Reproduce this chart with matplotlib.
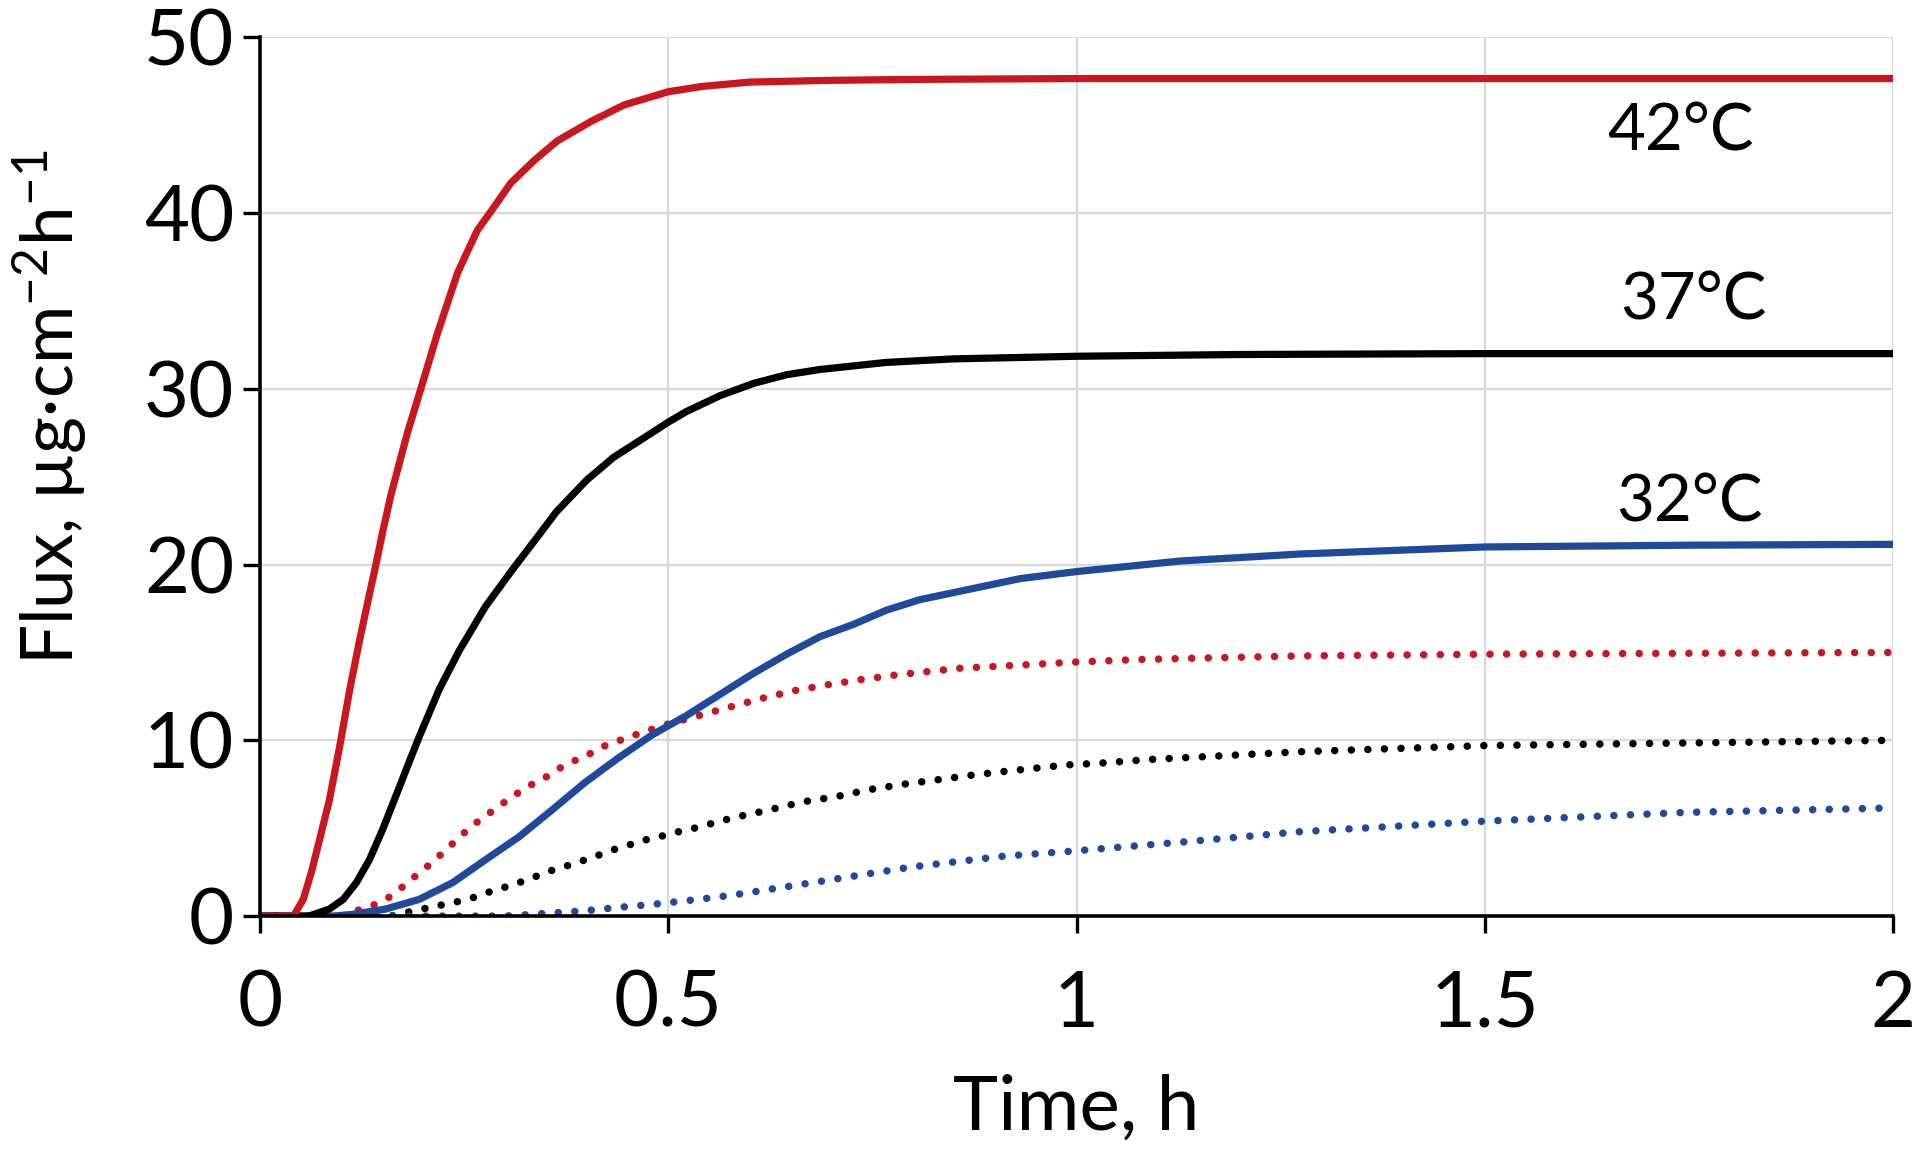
import numpy as np
import matplotlib.pyplot as plt

plt.rcParams['font.family'] = ['Lato', 'DejaVu Sans']
plt.rcParams['mathtext.default'] = 'regular'

# curves (time in h, flux in ug/cm2/h)
t_red = [0, 0.041, 0.053, 0.063, 0.073, 0.085, 0.0976, 0.110, 0.122, 0.134, 0.142, 0.150,
         0.1606, 0.1806, 0.197, 0.217, 0.242, 0.266, 0.283, 0.307, 0.336, 0.364,
         0.405, 0.446, 0.5, 0.541, 0.6, 0.7, 0.8, 1.0, 1.5, 2.0]
f_red = [0, 0, 0.95, 2.5, 4.35, 6.6, 9.65, 12.9, 15.7, 18.3, 20.0, 21.8,
         24.0, 27.5, 30.0, 33.1, 36.6, 39.0, 40.1, 41.7, 43.0, 44.1,
         45.2, 46.15, 46.9, 47.2, 47.45, 47.55, 47.6, 47.65, 47.65, 47.65]

t_black = [0, 0.06, 0.085, 0.102, 0.118, 0.134, 0.150, 0.167, 0.183, 0.195, 0.2195, 0.244,
           0.276, 0.309, 0.337, 0.363, 0.40, 0.433, 0.47, 0.5, 0.522, 0.563, 0.604, 0.645,
           0.686, 0.767, 0.849, 1.0, 1.2, 1.5, 2.0]
f_black = [0, 0, 0.4, 0.95, 1.9, 3.2, 4.9, 6.9, 8.8, 10.2, 12.9, 15.1,
           17.6, 19.7, 21.4, 23.0, 24.8, 26.1, 27.2, 28.1, 28.7, 29.6, 30.3, 30.8,
           31.1, 31.5, 31.7, 31.85, 31.95, 32.0, 32.0]

t_blue = [0, 0.09, 0.114, 0.154, 0.195, 0.236, 0.276, 0.317, 0.358, 0.398, 0.439, 0.48,
          0.522, 0.563, 0.604, 0.645, 0.686, 0.727, 0.767, 0.808, 0.849, 0.89, 0.931,
          1.0, 1.127, 1.274, 1.5, 1.75, 2.0]
f_blue = [0, 0, 0.1, 0.4, 0.95, 1.9, 3.2, 4.5, 6.05, 7.6, 9.0, 10.3,
          11.4, 12.6, 13.8, 14.9, 15.9, 16.6, 17.4, 18.0, 18.4, 18.8, 19.2,
          19.6, 20.2, 20.6, 21.0, 21.1, 21.15]

t_red_dot = [0, 0.10, 0.118, 0.138, 0.156, 0.173, 0.191, 0.207, 0.224, 0.240, 0.254, 0.270,
             0.287, 0.303, 0.319, 0.337, 0.354, 0.370, 0.388, 0.407, 0.423, 0.441, 0.459,
             0.478, 0.498, 0.537, 0.576, 0.616, 0.657, 0.694, 0.735, 0.776, 0.816, 0.857,
             0.898, 0.939, 0.998, 1.078, 1.274, 1.5, 2.0]
f_red_dot = [0, 0, 0.3, 0.6, 1.0, 1.6, 2.3, 2.9, 3.6, 4.3, 4.9, 5.5,
             6.05, 6.6, 7.1, 7.6, 8.0, 8.5, 8.9, 9.3, 9.7, 10.0, 10.3,
             10.6, 10.9, 11.4, 11.9, 12.4, 12.85, 13.15, 13.45, 13.7, 13.9, 14.1,
             14.2, 14.3, 14.45, 14.6, 14.8, 14.9, 15.0]

t_black_dot = [0, 0.16, 0.179, 0.199, 0.2195, 0.240, 0.258, 0.276, 0.297, 0.317, 0.335,
               0.354, 0.372, 0.392, 0.411, 0.431, 0.449, 0.469, 0.488, 0.508, 0.528, 0.58,
               0.62, 0.665, 0.706, 0.747, 0.788, 0.829, 0.869, 0.906, 0.947, 0.988, 1.029,
               1.086, 1.274, 1.5, 2.0]
f_black_dot = [0, 0, 0.2, 0.4, 0.6, 0.8, 1.0, 1.3, 1.6, 1.9, 2.2,
               2.55, 2.8, 3.1, 3.4, 3.75, 4.0, 4.3, 4.5, 4.75, 4.95, 5.6,
               6.0, 6.5, 6.8, 7.2, 7.5, 7.75, 8.0, 8.2, 8.4, 8.6, 8.7,
               8.9, 9.35, 9.7, 10.0]

t_blue_dot = [0, 0.30, 0.398, 0.44, 0.48, 0.537, 0.58, 0.69, 0.799, 0.909, 0.996, 1.127,
              1.274, 1.5, 1.747, 2.0]
f_blue_dot = [0, 0, 0.3, 0.5, 0.66, 0.95, 1.2, 2.0, 2.8, 3.4, 3.7, 4.2,
              4.8, 5.4, 5.9, 6.15]

labels = ['42°C', '37°C', '32°C']
label_x = [1.74, 1.755, 1.751]
label_y = [44.6, 35.0, 23.5]

red = '#c8171e'
black = '#000000'
blue = '#1f4a9c'

fig = plt.figure(figsize=(19.2, 11.64), dpi=100)
ax = fig.add_axes([0.1354, 0.213, 0.8506, 0.755])

dot = (0, (0.01, 2.2))
for t, f, c in [(t_red_dot, f_red_dot, red), (t_black_dot, f_black_dot, black),
                (t_blue_dot, f_blue_dot, blue)]:
    ax.plot(t, f, color=c, lw=5.4, linestyle=dot, dash_capstyle='round')
ax.plot(t_blue, f_blue, color=blue, lw=5.2)
ax.plot(t_black, f_black, color=black, lw=5.2)
ax.plot(t_red, f_red, color=red, lw=5.2)

for txt, x, y in zip(labels, label_x, label_y):
    ax.text(x, y, txt, fontsize=47, ha='center', va='center')

ax.set_xlim(0, 2)
ax.set_ylim(0, 50)
ax.set_xticks([0, 0.5, 1, 1.5, 2])
ax.set_xticklabels(['0', '0.5', '1', '1.5', '2'])
ax.set_yticks([0, 10, 20, 30, 40, 50])
ax.tick_params(direction='out', length=12.5, width=2.4, labelsize=56)
ax.tick_params(axis='x', pad=26)
ax.tick_params(axis='y', pad=6)
ax.grid(True, color='#d9d9d9', lw=1.6)
ax.set_axisbelow(True)
for s in ['top', 'right']:
    ax.spines[s].set_visible(False)
for s in ['left', 'bottom']:
    ax.spines[s].set_linewidth(2.6)

fig.text(0.5604, 0.048, 'Time, h', fontsize=55, ha='center', va='center')
fig.text(0.0255, 0.65, 'Flux, µg·cm$^{-2}$h$^{-1}$', fontsize=51, rotation=90,
         ha='center', va='center')

plt.savefig('out.png', dpi=100)
plt.close()
